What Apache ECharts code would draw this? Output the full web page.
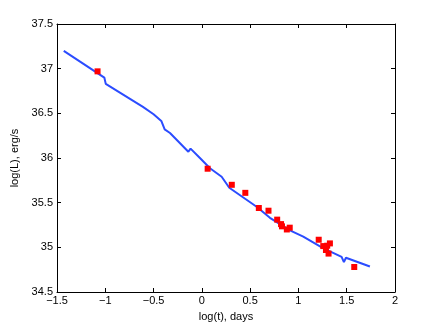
<!DOCTYPE html>
<html>
<head>
<meta charset="utf-8">
<style>
    html, body{ margin: 0; padding: 0; background: #fff;}
    #chart1{ width: 436px; height: 328px;}
</style>
<script src="https://cdn.jsdelivr.net/npm/echarts@6/dist/echarts.min.js"></script>
</head>
<body>
<div id="chart1"></div>
<script>
    // model curve: log(t) days -> log(L)
    var modelX = [-1.43, -1.01, -0.995, -0.74, -0.61, -0.5, -0.42, -0.385, -0.33, -0.14, -0.117, -0.02, 0.084, 0.205, 0.284, 0.567, 0.705, 0.912, 1.05, 1.25, 1.447, 1.471, 1.492, 1.74];
    var modelY = [37.20, 36.90, 36.83, 36.66, 36.572, 36.49, 36.415, 36.32, 36.28, 36.07, 36.105, 36.0, 35.885, 35.79, 35.667, 35.454, 35.33, 35.19, 35.12, 34.995, 34.894, 34.835, 34.883, 34.785];

    // observations
    var obsX = [-1.08, 0.06, 0.31, 0.45, 0.59, 0.69, 0.78, 0.82, 0.83, 0.88, 0.91, 1.21, 1.257, 1.298, 1.326, 1.285, 1.312, 1.578];
    var obsY = [36.97, 35.88, 35.70, 35.61, 35.44, 35.41, 35.31, 35.26, 35.235, 35.20, 35.22, 35.085, 35.014, 35.018, 35.044, 34.97, 34.93, 34.78];

    var xTicks = {min: -1.5, max: 2, step: 0.5};
    var yTicks = {min: 34.5, max: 37.5, step: 0.5};

    function zip(a, b){
        return a.map(function(v, i){ return [v, b[i]]; });
    }
    function fmt(v){
        return String(v).replace('-', '\u2212');
    }

    var chart = echarts.init(document.getElementById('chart1'));
    var lineStyle = {color: '#000', width: 1};
    var font = 'Liberation Sans, Arial, sans-serif';

    chart.setOption({
        animation: false,
        grid: {left: 57, right: 41, top: 24, bottom: 36},
        xAxis: [{
            type: 'value', min: xTicks.min, max: xTicks.max, interval: xTicks.step,
            name: 'log(t), days', nameLocation: 'middle', nameGap: 19,
            nameTextStyle: {color: '#000', fontSize: 11, fontFamily: font},
            axisLine: {show: true, onZero: false, lineStyle: lineStyle},
            axisTick: {inside: true, length: 4, lineStyle: lineStyle},
            axisLabel: {color: '#000', fontSize: 11, fontFamily: font, margin: 3, formatter: fmt},
            splitLine: {show: false}
        }, {
            type: 'value', position: 'top', min: xTicks.min, max: xTicks.max, interval: xTicks.step,
            axisLine: {show: true, onZero: false, lineStyle: lineStyle},
            axisTick: {inside: true, length: 4, lineStyle: lineStyle},
            axisLabel: {show: false},
            splitLine: {show: false}
        }],
        yAxis: [{
            type: 'value', min: yTicks.min, max: yTicks.max, interval: yTicks.step,
            name: 'log(L), erg/s', nameLocation: 'middle', nameGap: 32,
            nameTextStyle: {color: '#000', fontSize: 11, fontFamily: font},
            axisLine: {show: true, onZero: false, lineStyle: lineStyle},
            axisTick: {inside: true, length: 4, lineStyle: lineStyle},
            axisLabel: {color: '#000', fontSize: 11, fontFamily: font, margin: 4, formatter: fmt},
            splitLine: {show: false}
        }, {
            type: 'value', position: 'right', min: yTicks.min, max: yTicks.max, interval: yTicks.step,
            axisLine: {show: true, onZero: false, lineStyle: lineStyle},
            axisTick: {inside: true, length: 4, lineStyle: lineStyle},
            axisLabel: {show: false},
            splitLine: {show: false}
        }],
        series: [{
            type: 'line',
            data: zip(modelX, modelY),
            showSymbol: false,
            lineStyle: {color: '#2b4cff', width: 2},
            z: 2
        }, {
            type: 'scatter',
            data: zip(obsX, obsY),
            symbol: 'rect',
            symbolSize: 6,
            itemStyle: {color: '#ff0000', opacity: 1},
            z: 3
        }]
    });
</script>
</body>
</html>
